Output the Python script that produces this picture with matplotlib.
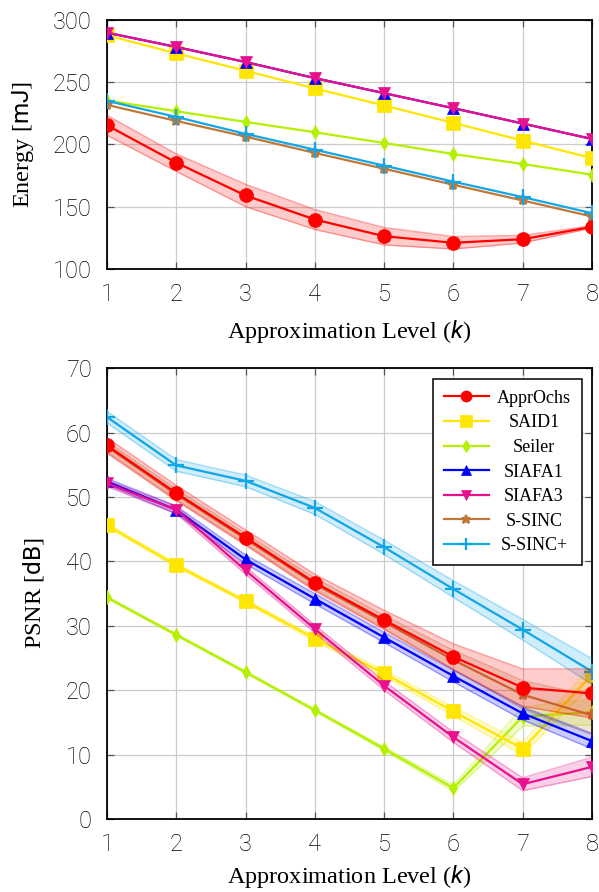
import numpy as np
import matplotlib
matplotlib.use("Agg")
import matplotlib.pyplot as plt
from matplotlib.transforms import Affine2D

# approximation levels
levels = [1, 2, 3, 4, 5, 6, 7, 8]

methods = ["ApprOchs", "SAID1", "Seiler", "SIAFA1", "SIAFA3", "S-SINC", "S-SINC+"]

# energy [mJ]
energy_approchs = [215.4, 185.4, 159.0, 139.7, 126.3, 121.0, 123.9, 133.8]
energy_said1 = [287.6, 273.2, 259.2, 245.0, 231.3, 217.3, 203.1, 189.0]
energy_seiler = [235.3, 226.7, 218.1, 209.8, 201.2, 192.3, 184.3, 175.7]
energy_siafa1 = [289.8, 278.3, 266.2, 253.3, 241.2, 229.1, 216.8, 204.4]
energy_siafa3 = [289.8, 278.3, 266.2, 253.3, 241.2, 229.1, 216.8, 204.4]
energy_ssinc = [231.8, 218.9, 206.3, 193.2, 180.5, 167.6, 155.0, 142.1]
energy_ssincp = [235.0, 222.1, 208.5, 195.8, 183.0, 170.1, 157.7, 144.8]
energy_approchs_std = [8, 7, 9, 8, 7, 5, 3, 1]

# PSNR [dB]
psnr_approchs = [58.0, 50.6, 43.7, 36.7, 30.9, 25.2, 20.4, 19.5]
psnr_said1 = [45.6, 39.4, 33.8, 28.0, 22.6, 16.7, 10.9, 22.4]
psnr_seiler = [34.4, 28.6, 22.8, 16.9, 10.9, 4.8, 15.9, 16.6]
psnr_siafa1 = [52.4, 48.0, 40.3, 34.2, 28.2, 22.2, 16.4, 12.1]
psnr_siafa3 = [52.1, 48.0, 38.6, 29.5, 20.7, 12.7, 5.4, 8.1]
psnr_ssinc = [57.8, 50.4, 43.5, 36.5, 30.6, 24.7, 19.3, 16.1]
psnr_ssincp = [62.4, 54.9, 52.5, 48.3, 42.2, 35.7, 29.4, 22.9]

psnr_approchs_std = [1.2, 1.2, 1.2, 1.3, 1.5, 2.0, 2.9, 3.8]
psnr_said1_std = [0.3, 0.3, 0.3, 0.4, 0.5, 0.7, 1.0, 1.5]
psnr_seiler_std = [0.2, 0.2, 0.2, 0.2, 0.3, 0.5, 1.5, 2.0]
psnr_siafa1_std = [0.5, 0.6, 0.7, 0.8, 0.8, 0.9, 1.0, 1.2]
psnr_siafa3_std = [0.5, 0.6, 0.6, 0.6, 0.7, 0.8, 1.0, 1.5]
psnr_ssinc_std = [0.8, 0.8, 0.8, 0.9, 1.0, 1.5, 2.2, 3.0]
psnr_ssincp_std = [0.9, 0.9, 0.9, 1.0, 1.1, 1.3, 1.6, 2.0]

colors = ["#ff0000", "#ffe600", "#b4f000", "#0000ff", "#e8108c", "#c07838", "#12a6e6"]
markers = ["o", "s", "d", "^", "v", "*", "+"]
msizes = [10, 10, 7.5, 8.5, 8.5, 8, 11]
zorders = [10, 4, 3, 5, 6, 4.5, 7]

plt.rcParams["mathtext.fontset"] = "custom"
plt.rcParams["mathtext.rm"] = "Liberation Serif"
plt.rcParams["mathtext.sf"] = "Roboto"
plt.rcParams["mathtext.it"] = "Roboto:italic"

label_font = dict(family="Liberation Serif", size=17.5)


def style_axes(ax, ylim, yticks, xpad):
    ax.set_xlim(1, 8)
    ax.set_ylim(*ylim)
    ax.set_xticks(levels)
    ax.set_yticks(yticks)
    ax.grid(True, color="#cccccc", linewidth=0.9)
    ax.set_axisbelow(True)
    ax.tick_params(direction="in", top=True, right=True, length=5,
                   width=0.9, color="#555555")
    ax.tick_params(axis="x", pad=10)
    ax.tick_params(axis="y", pad=11)
    for lab in ax.get_xticklabels() + ax.get_yticklabels():
        lab.set_fontfamily("Roboto")
        lab.set_fontweight("light")
        lab.set_fontsize(17)
    for sp in ax.spines.values():
        sp.set_linewidth(1.3)
    ax.set_xlabel(r"Approximation Level ($\mathit{k}$)", labelpad=xpad, **label_font)


def draw(ax, series, stds):
    for i, name in enumerate(methods):
        y = np.array(series[i])
        ax.plot(levels, y, color=colors[i], marker=markers[i], markersize=msizes[i],
                linewidth=1.6, markeredgewidth=1.6 if markers[i] in "+*" else 0.5,
                markeredgecolor=colors[i], label=name, zorder=zorders[i])
        if stds[i] is not None:
            s = np.array(stds[i])
            ax.fill_between(levels, y - s, y + s, color=colors[i], alpha=0.2,
                            linewidth=0, zorder=zorders[i] - 0.5)
            ax.plot(levels, y - s, color=colors[i], alpha=0.35, linewidth=1.0,
                    zorder=zorders[i] - 0.5)
            ax.plot(levels, y + s, color=colors[i], alpha=0.35, linewidth=1.0,
                    zorder=zorders[i] - 0.5)


fig = plt.figure(figsize=(5.99, 8.92), dpi=100)
ax1 = fig.add_axes([0.1786, 0.6985, 0.8097, 0.2791])
ax2 = fig.add_axes([0.1786, 0.0818, 0.8097, 0.5055])

draw(ax1,
     [energy_approchs, energy_said1, energy_seiler, energy_siafa1, energy_siafa3,
      energy_ssinc, energy_ssincp],
     [energy_approchs_std, None, None, None, None, None, None])
style_axes(ax1, (100, 300), [100, 150, 200, 250, 300], 9)
ax1.set_ylabel(r"Energy [$\mathsf{mJ}$]", labelpad=12, **label_font)

draw(ax2,
     [psnr_approchs, psnr_said1, psnr_seiler, psnr_siafa1, psnr_siafa3,
      psnr_ssinc, psnr_ssincp],
     [psnr_approchs_std, psnr_said1_std, psnr_seiler_std, psnr_siafa1_std,
      psnr_siafa3_std, psnr_ssinc_std, psnr_ssincp_std])
style_axes(ax2, (0, 70), [0, 10, 20, 30, 40, 50, 60, 70], 5)
ax2.set_ylabel(r"PSNR [$\mathsf{dB}$]", labelpad=14, **label_font)

handles, labels = ax2.get_legend_handles_labels()
handles = [h for h in handles if h.get_label() in methods]
leg = ax2.legend(handles, methods, loc="upper right", bbox_to_anchor=(0.979, 0.976),
                 borderaxespad=0, prop=dict(family="Liberation Serif", size=13),
                 fancybox=False, edgecolor="black", framealpha=1, handlelength=2.5,
                 labelspacing=0.42, borderpad=0.6, handletextpad=0.45,
                 markerscale=0.8)
leg.get_frame().set_linewidth(1.1)
leg.set_zorder(20)

# pgfplots centres the legend entries: shift each text to the middle of the column
renderer = fig.canvas.get_renderer()
texts = leg.get_texts()
widths = [t.get_window_extent(renderer).width for t in texts]
wmax = max(widths)
for t, w in zip(texts, widths):
    t.set_transform(t.get_transform() + Affine2D().translate((wmax - w) / 2, 0))

fig.savefig("out.png", dpi=100)
